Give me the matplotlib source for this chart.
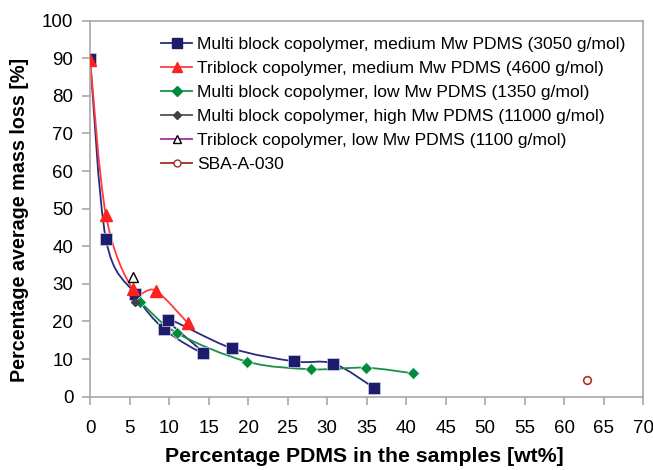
import numpy as np
import matplotlib
matplotlib.use('Agg')
from matplotlib import pyplot as plt
from matplotlib.path import Path
from matplotlib.patches import PathPatch
from matplotlib.lines import Line2D

plt.rcParams['font.family'] = ['Liberation Sans', 'DejaVu Sans']

# data
multi_med_x = [0, 2.0, 5.7, 9.4, 14.3, 9.9, 17.9, 25.8, 30.8, 35.9]
multi_med_y = [89.7, 41.9, 27.2, 17.9, 11.7, 20.5, 12.9, 9.4, 8.8, 2.4]
tri_med_x = [0, 2.0, 5.4, 8.3, 12.4]
tri_med_y = [89.6, 48.3, 28.6, 28.2, 19.5]
multi_low_x = [6.3, 11.0, 19.9, 28.0, 34.9, 40.9]
multi_low_y = [25.3, 16.9, 9.3, 7.3, 7.7, 6.2]
multi_high_x = [5.7]
multi_high_y = [25.1]
tri_low_x = [5.4]
tri_low_y = [31.8]
sba_x = [62.9]
sba_y = [4.4]

labels = ['Multi block copolymer, medium Mw PDMS (3050 g/mol)',
          'Triblock copolymer, medium Mw PDMS (4600 g/mol)',
          'Multi block copolymer, low Mw PDMS (1350 g/mol)',
          'Multi block copolymer, high Mw PDMS (11000 g/mol)',
          'Triblock copolymer, low Mw PDMS (1100 g/mol)',
          'SBA-A-030']


def smooth_path(xs, ys):
    # excel style smoothed line: cubic bezier through the points
    p = np.column_stack([xs, ys]).astype(float)
    n = len(p)
    verts = [p[0]]
    codes = [Path.MOVETO]
    for i in range(n - 1):
        p0 = p[i - 1] if i > 0 else p[i]
        p3 = p[i + 2] if i + 2 < n else p[i + 1]
        c1 = p[i] + (p[i + 1] - p0) / 6
        c2 = p[i + 1] - (p3 - p[i]) / 6
        verts += [c1, c2, p[i + 1]]
        codes += [Path.CURVE4] * 3
    return Path(verts, codes)


fig = plt.figure(figsize=(6.53, 4.70), dpi=100)
ax = fig.add_axes([0.138, 0.156, 0.847, 0.800])

blue = '#1c1c6b'
red = '#ff2020'
green = '#008a3e'
gray = '#404040'

ax.add_patch(PathPatch(smooth_path(multi_med_x, multi_med_y), fill=False, ec='#2a2a80', lw=1.3))
ax.add_patch(PathPatch(smooth_path(tri_med_x, tri_med_y), fill=False, ec='#ff3b3b', lw=1.3))
ax.add_patch(PathPatch(smooth_path(multi_low_x, multi_low_y), fill=False, ec='#1a9048', lw=1.3))

ax.plot(multi_med_x, multi_med_y, ls='none', marker='s', ms=8, mfc=blue, mec='#d0d0e8', mew=0.5, zorder=4)
ax.plot(tri_med_x, tri_med_y, ls='none', marker='^', ms=8.5, mfc=red, mec=red, zorder=4)
ax.plot(multi_low_x, multi_low_y, ls='none', marker='D', ms=6, mfc=green, mec='#e0f0e0', mew=0.5, zorder=4)
ax.plot(multi_high_x, multi_high_y, ls='none', marker='D', ms=4.5, mfc=gray, mec=gray, zorder=4)
ax.plot(tri_low_x, tri_low_y, ls='none', marker='^', ms=7, mfc='white', mec='black', mew=1, zorder=4)
ax.plot(sba_x, sba_y, ls='none', marker='o', ms=5.5, mfc='white', mec='#b03020', mew=1.2, zorder=4)

handles = [
    Line2D([], [], color='#2a2a80', lw=1.3, marker='s', ms=7, mfc=blue, mec=blue),
    Line2D([], [], color='#ff3b3b', lw=1.3, marker='^', ms=7.5, mfc=red, mec=red),
    Line2D([], [], color='#1a9048', lw=1.3, marker='D', ms=5.5, mfc=green, mec=green),
    Line2D([], [], color='#505050', lw=1.3, marker='D', ms=4, mfc=gray, mec=gray),
    Line2D([], [], color='#a030a0', lw=1.3, marker='^', ms=6, mfc='white', mec='black'),
    Line2D([], [], color='#a52a2a', lw=1.3, marker='o', ms=5, mfc='white', mec='#a52a2a'),
]
ax.legend(handles, labels, loc='upper left', bbox_to_anchor=(0.122, 0.966), frameon=False,
          fontsize=12.6, handlelength=1.77, handletextpad=0.29, labelspacing=0.5,
          borderpad=0.2, borderaxespad=0)

ax.set_xlim(0, 70)
ax.set_ylim(0, 100)
ax.set_xticks(np.arange(0, 71, 5))
ax.set_yticks(np.arange(0, 101, 10))
for s in ax.spines.values():
    s.set_color('#a8a8a8')
    s.set_linewidth(1.2)
ax.tick_params(axis='both', which='major', labelsize=13.5, color='#a8a8a8', width=1.2, length=6)
ax.tick_params(axis='x', pad=11)
ax.tick_params(axis='y', pad=6)
ax.set_xlabel('Percentage PDMS in the samples [wt%]', fontsize=15.3, fontweight='bold')
ax.set_ylabel('Percentage average mass loss [%]', fontsize=14.2, fontweight='bold')
ax.xaxis.set_label_coords(0.495, -0.135)
ax.yaxis.set_label_coords(-0.11, 0.47)

fig.savefig('out.png', dpi=100)
